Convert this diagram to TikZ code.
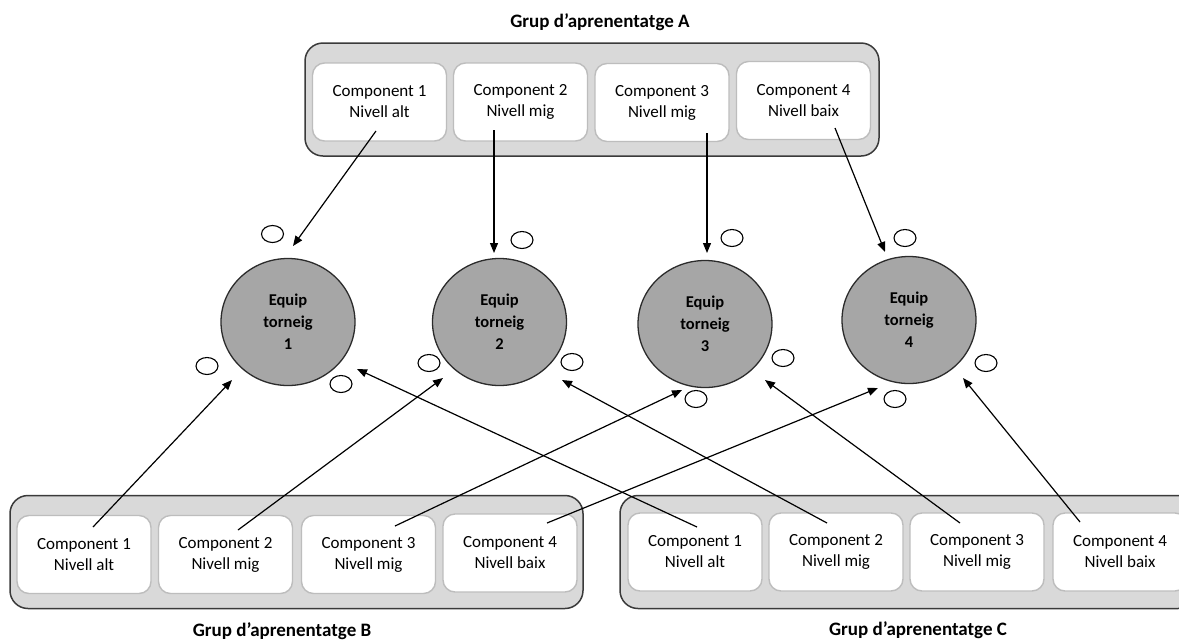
\documentclass[tikz,border=0pt]{standalone}
\usepackage{fontspec}
\setmainfont{Carlito}
\usetikzlibrary{arrows.meta,shapes.geometric}
\definecolor{grpfill}{HTML}{D9D9D9}
\definecolor{grpline}{HTML}{3A3A3A}
\definecolor{cardline}{HTML}{BDBDBD}
\definecolor{teamfill}{HTML}{A6A6A6}
\definecolor{teamline}{HTML}{2B2B2B}
\begin{document}
\begin{tikzpicture}[x=1pt,y=-1pt,
  group/.style={draw=grpline, fill=grpfill, line width=1.5pt, rounded corners=18pt,
    minimum width=#1, minimum height=113pt, inner sep=0pt},
  card/.style={draw=cardline, fill=white, line width=1.4pt, rounded corners=12pt,
    minimum width=134pt, minimum height=78pt, inner sep=0pt, align=center,
    font=\fontsize{17}{21}\selectfont},
  team/.style={ellipse, draw=teamline, fill=teamfill, line width=1.3pt,
    minimum width=134pt, minimum height=127pt, inner sep=0pt, align=center,
    font=\fontsize{16.5}{22}\selectfont\bfseries},
  slot/.style={ellipse, draw=black, fill=white, line width=1.1pt,
    minimum width=22pt, minimum height=17pt, inner sep=0pt},
  title/.style={font=\fontsize{19}{23}\selectfont\bfseries, inner sep=0pt},
  link/.style={draw=black, line width=1.2pt, -{Triangle[length=10pt,width=8pt]}}
]
\useasboundingbox (0,0) rectangle (1179,641);
\clip (0,0) rectangle (1179,641);

% learning groups
\node[title] (tA) at (600,22) {Grup d’aprenentatge A};
\node[title] (tB) at (282,631.5) {Grup d’aprenentatge B};
\node[title] (tC) at (918,630) {Grup d’aprenentatge C};

\node[group=574pt] (GA) at (592,99.5) {};
\node[group=573pt] (GB) at (296.5,552) {};
\node[group=576pt] (GC) at (908,552) {};

% components of group A
\node[card] (A1) at (379.5,102) {Component 1\\Nivell alt};
\node[card] (A2) at (520.5,102) {Component 2\\Nivell mig};
\node[card] (A3) at (662,102.5) {Component 3\\Nivell mig};
\node[card] (A4) at (803.5,100.5) {Component 4\\Nivell baix};

% components of group B
\node[card] (B1) at (84,554.5) {Component 1\\Nivell alt};
\node[card] (B2) at (225.5,554.5) {Component 2\\Nivell mig};
\node[card] (B3) at (368.5,554.5) {Component 3\\Nivell mig};
\node[card] (B4) at (510,553) {Component 4\\Nivell baix};

% components of group C
\node[card] (C1) at (695,552) {Component 1\\Nivell alt};
\node[card] (C2) at (836,552) {Component 2\\Nivell mig};
\node[card] (C3) at (977,552) {Component 3\\Nivell mig};
\node[card] (C4) at (1120,552) {Component 4\\Nivell baix};

% tournament teams
\node[team] (T1) at (288,322) {Equip\\torneig\\1};
\node[team] (T2) at (499.5,322) {Equip\\torneig\\2};
\node[team] (T3) at (705,324) {Equip\\torneig\\3};
\node[team] (T4) at (909,320) {Equip\\torneig\\4};

% empty seats around the teams
\node[slot] (s11) at (272.5,234) {};
\node[slot] (s12) at (207,366) {};
\node[slot] (s13) at (341,384) {};
\node[slot] (s21) at (522,240) {};
\node[slot] (s22) at (429,363) {};
\node[slot] (s23) at (572,362) {};
\node[slot] (s31) at (732,238) {};
\node[slot] (s32) at (783,358) {};
\node[slot] (s33) at (696,399) {};
\node[slot] (s41) at (905,238) {};
\node[slot] (s42) at (986,363) {};
\node[slot] (s43) at (895,399) {};

% arrow ends
\coordinate (a1s) at (376,131);  \coordinate (a1e) at (293,246);
\coordinate (a2s) at (494,130);  \coordinate (a2e) at (494,253);
\coordinate (a3s) at (707,133);  \coordinate (a3e) at (707,253);
\coordinate (a4s) at (835,128);  \coordinate (a4e) at (885,252);
\coordinate (b1s) at (93,527);   \coordinate (b1e) at (232,380);
\coordinate (b2s) at (238,530);  \coordinate (b2e) at (443,378);
\coordinate (b3s) at (395,526);  \coordinate (b3e) at (682,390);
\coordinate (b4s) at (547,523);  \coordinate (b4e) at (878,388);
\coordinate (c1s) at (697,527);  \coordinate (c1e) at (357,369);
\coordinate (c2s) at (827,523);  \coordinate (c2e) at (562,380);
\coordinate (c3s) at (960,523);  \coordinate (c3e) at (765,380);
\coordinate (c4s) at (1080,522); \coordinate (c4e) at (963,378);

% each component joins a team
\draw[link] (a1s) -- (a1e);
\draw[link] (a2s) -- (a2e);
\draw[link] (a3s) -- (a3e);
\draw[link] (a4s) -- (a4e);
\draw[link] (b1s) -- (b1e);
\draw[link] (b2s) -- (b2e);
\draw[link] (b3s) -- (b3e);
\draw[link] (b4s) -- (b4e);
\draw[link] (c1s) -- (c1e);
\draw[link] (c2s) -- (c2e);
\draw[link] (c3s) -- (c3e);
\draw[link] (c4s) -- (c4e);
\end{tikzpicture}
\end{document}
